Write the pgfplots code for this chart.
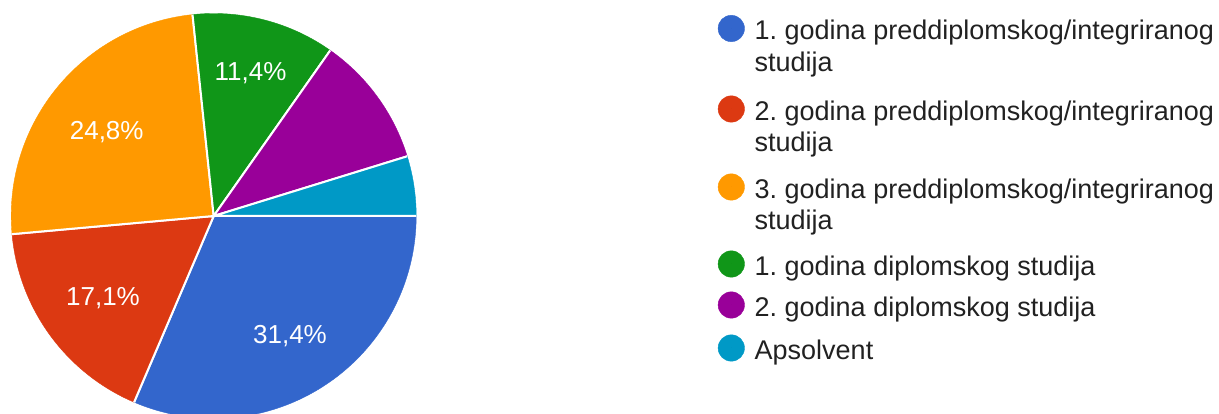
\documentclass[border=0pt]{standalone}
\usepackage{fontspec}
\setmainfont{Liberation Sans}
\usepackage{pgfplots}
\pgfplotsset{compat=1.18}
\usepackage{pgfplotstable}

\definecolor{slice1}{HTML}{3366CC}
\definecolor{slice2}{HTML}{DC3912}
\definecolor{slice3}{HTML}{FF9900}
\definecolor{slice4}{HTML}{109618}
\definecolor{slice5}{HTML}{990099}
\definecolor{slice6}{HTML}{0099C6}
\definecolor{legendtext}{HTML}{212121}

% answers out of 105; start/end = slice edges in degrees (clockwise from 3 o'clock)
\pgfplotstableread{
x y count start end idx
0 0 33 0 -113.143 1
0 0 18 -113.143 -174.857 2
0 0 26 -174.857 -264 3
0 0 12 -264 -305.143 4
0 0 11 -305.143 -342.857 5
0 0 5 -342.857 -360 6
}\piedata

\pgfplotstableread{
x y lab
76.3 -127.3 31,4\%
-110.7 -90 17,1\%
-107 76.7 24,8\%
36.8 135 11,4\%
}\pielabels

% legend: dots and text lines, in pixels from the pie centre
\pgfplotstableread{
x y idx
517.6 187.5 1
517.6 107 2
517.6 29 3
517.6 -48 4
517.6 -89 5
517.6 -132 6
}\legdots

\pgfplotstableread[col sep=comma]{
x,y,lab
540.8,176,1. godina preddiplomskog/integriranog
540.8,144.5,studija
540.8,95.5,2. godina preddiplomskog/integriranog
540.8,64,studija
540.8,17.5,3. godina preddiplomskog/integriranog
540.8,-14,studija
540.8,-59.5,1. godina diplomskog studija
540.8,-100.5,2. godina diplomskog studija
540.8,-143.5,Apsolvent
}\legtext

\newcommand\pieR{202.5bp}

\begin{document}
\frenchspacing
\begin{tikzpicture}
\begin{axis}[
  at={(0,0)}, anchor=south west,
  width=1219bp, height=414bp, scale only axis,
  xmin=-213.7, xmax=1005.3, ymin=-198, ymax=216,
  hide axis, clip=false,
]

% slices
\addplot[scatter, only marks, mark=*, mark size=0pt, forget plot,
  visualization depends on={\thisrow{start}\as\sa},
  visualization depends on={\thisrow{end}\as\ea},
  visualization depends on={\thisrow{idx}\as\ci},
  scatter/@pre marker code/.code={%
    \pgfmathtruncatemacro\cn{\ci}%
    \fill[slice\cn] (0pt,0pt) -- (\sa:\pieR) arc[start angle=\sa, end angle=\ea, radius=\pieR] -- cycle;
    \draw[white, line width=2bp] (\sa:\pieR) -- (0pt,0pt) -- (\ea:\pieR);
  },
  scatter/@post marker code/.code={},
] table {\piedata};

% percentages
\addplot[only marks, mark=*, mark size=0pt, mark options={draw=none, fill=none},
  nodes near coords, point meta=explicit symbolic,
  every node near coord/.append style={anchor=base, inner sep=0pt, text=white,
    font=\fontsize{26bp}{30bp}\selectfont},
] table[meta=lab] {\pielabels};

% legend dots
\addplot[scatter, only marks, mark=*, mark size=0pt,
  visualization depends on={\thisrow{idx}\as\ci},
  scatter/@pre marker code/.code={%
    \pgfmathtruncatemacro\cn{\ci}%
    \fill[slice\cn] (0pt,0pt) circle[radius=13.2bp];
  },
  scatter/@post marker code/.code={},
] table {\legdots};

% legend text
\addplot[only marks, mark=*, mark size=0pt, mark options={draw=none, fill=none},
  nodes near coords, point meta=explicit symbolic,
  every node near coord/.append style={anchor=base west, inner sep=0pt, text=legendtext,
    font=\fontsize{27bp}{30bp}\selectfont},
] table[meta=lab] {\legtext};
\end{axis}
\pgfresetboundingbox
\useasboundingbox (0,0) rectangle (1219bp,414bp);
\end{tikzpicture}
\end{document}
